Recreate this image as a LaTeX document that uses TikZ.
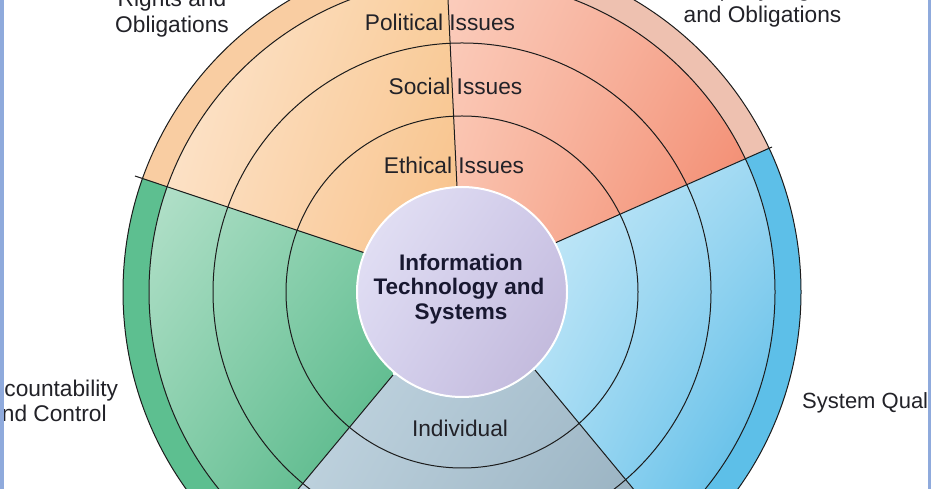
\documentclass[tikz,border=0pt]{standalone}
\usepackage{fontspec}
\setmainfont{Liberation Sans}
\usetikzlibrary{shadings}
\definecolor{framec}{RGB}{143,170,220}
\definecolor{linec}{RGB}{28,28,28}
\definecolor{labelc}{RGB}{34,34,40}
\definecolor{ctrtext}{RGB}{24,24,48}
% orange sector
\definecolor{orUL}{RGB}{253,231,209}
\definecolor{orUR}{RGB}{249,205,155}
\definecolor{orLL}{RGB}{252,223,193}
\definecolor{orLR}{RGB}{248,192,136}
\definecolor{orBand}{RGB}{249,205,162}
% red sector
\definecolor{rdUL}{RGB}{251,205,189}
\definecolor{rdUR}{RGB}{245,165,142}
\definecolor{rdLL}{RGB}{250,192,170}
\definecolor{rdLR}{RGB}{242,132,104}
\definecolor{rdBand}{RGB}{238,193,176}
% blue sector
\definecolor{blUL}{RGB}{210,238,250}
\definecolor{blUR}{RGB}{158,216,242}
\definecolor{blLL}{RGB}{169,221,244}
\definecolor{blLR}{RGB}{77,182,229}
\definecolor{blBand}{RGB}{93,191,232}
% green sector
\definecolor{grUL}{RGB}{181,225,203}
\definecolor{grUR}{RGB}{124,203,164}
\definecolor{grLL}{RGB}{127,203,165}
\definecolor{grLR}{RGB}{67,174,123}
\definecolor{grBand}{RGB}{93,191,144}
% gray sector
\definecolor{gyUL}{RGB}{201,219,230}
\definecolor{gyUR}{RGB}{162,187,202}
\definecolor{gyLL}{RGB}{188,208,220}
\definecolor{gyLR}{RGB}{138,165,181}
% core
\definecolor{coUL}{RGB}{230,228,246}
\definecolor{coUR}{RGB}{206,200,232}
\definecolor{coLL}{RGB}{214,210,238}
\definecolor{coLR}{RGB}{190,180,216}
\begin{document}
\begin{tikzpicture}[x=1pt,y=1pt,
  lbl/.style={font=\fontsize{22.7}{26}\selectfont, text=labelc, inner sep=0pt, anchor=base},
  ctr/.style={font=\fontsize{22.5}{25}\selectfont\bfseries, text=ctrtext, inner sep=0pt, anchor=base},
  ring/.style={draw=linec, line width=1pt},
  divider/.style={draw=linec, line width=1pt}]
\useasboundingbox (0,0) rectangle (931,489);
\clip (0,0) rectangle (931,489);
\fill[white] (0,0) rectangle (931,489);
\coordinate (C) at (462,197);
\begin{scope}[shift={(C)}]
  % divider lines: inner point A, outer tick point B, far point F
  \coordinate (A1) at (-5,105);   \coordinate (B1) at (-16.6,346.7); \coordinate (F1) at (-24,505);
  \coordinate (A2) at (-97,39);   \coordinate (B2) at (-327,116);    \coordinate (F2) at (-465,162);
  \coordinate (A3) at (-69,-83);  \coordinate (B3) at (-222,-267);   \coordinate (F3) at (-348,-419);
  \coordinate (A4) at (73,-78);   \coordinate (B4) at (226,-263);    \coordinate (F4) at (358,-423);
  \coordinate (A5) at (93,49);    \coordinate (B5) at (310,145);     \coordinate (F5) at (440,203);
  % red sector
  \begin{scope}
    \clip (A5) -- (F5) -- (60:700) -- (F1) -- (A1) -- cycle;
    \fill[rdBand] (0,0) circle[radius=339];
    \clip (0,0) circle[radius=313];
    \shade[upper left=rdUL, upper right=rdUR, lower left=rdLL, lower right=rdLR]
      (-15,25) rectangle (285,313);
  \end{scope}
  % orange sector
  \begin{scope}
    \clip (A1) -- (F1) -- (130:700) -- (F2) -- (A2) -- cycle;
    \fill[orBand] (0,0) circle[radius=339];
    \clip (0,0) circle[radius=313];
    \shade[upper left=orUL, upper right=orUR, lower left=orLL, lower right=orLR]
      (-295,20) rectangle (0,313);
  \end{scope}
  % green sector
  \begin{scope}
    \clip (A2) -- (F2) -- (195:700) -- (F3) -- (A3) -- cycle;
    \fill[grBand] (0,0) circle[radius=339];
    \clip (0,0) circle[radius=313];
    \shade[upper left=grUL, upper right=grUR, lower left=grLL, lower right=grLR]
      (-313,-240) rectangle (-38,115);
  \end{scope}
  % gray sector
  \begin{scope}
    \clip (A3) -- (F3) -- (270:700) -- (F4) -- (A4) -- cycle;
    \clip (0,0) circle[radius=339];
    \shade[upper left=gyUL, upper right=gyUR, lower left=gyLL, lower right=gyLR]
      (-218,-339) rectangle (225,-40);
  \end{scope}
  % blue sector
  \begin{scope}
    \clip (A4) -- (F4) -- (345:700) -- (F5) -- (A5) -- cycle;
    \fill[blBand] (0,0) circle[radius=339];
    \clip (0,0) circle[radius=313];
    \shade[upper left=blUL, upper right=blUR, lower left=blLL, lower right=blLR]
      (40,-240) rectangle (313,140);
  \end{scope}
  % rings
  \draw[ring] (0,0) circle[radius=176];
  \draw[ring] (0,0) circle[radius=249];
  \draw[ring] (0,0) circle[radius=313];
  \draw[ring] (0,0) circle[radius=339];
  % dividers
  \draw[divider] (A1) -- (B1);
  \draw[divider] (A2) -- (B2);
  \draw[divider] (A3) -- (B3);
  \draw[divider] (A4) -- (B4);
  \draw[divider] (A5) -- (B5);
\end{scope}
% core circle
\node[circle, minimum size=210pt, inner sep=0pt, draw=white, line width=2pt,
      upper left=coUL, upper right=coUR, lower left=coLL, lower right=coLR] (core) at (C) {};
\node[ctr] (core1) at (461,218) {Information};
\node[ctr] (core2) at (459,194) {Technology and};
\node[ctr] (core3) at (461,169) {Systems};
% ring labels
\node[lbl] (pol) at (440,458) {Political Issues};
\node[lbl] (soc) at (455.5,394) {Social Issues};
\node[lbl] (eth) at (454,315) {Ethical Issues};
\node[lbl] (ind) at (460,52) {Individual};
% dimension labels
\node[lbl] (irA) at (172,482) {Rights and};
\node[lbl] (irB) at (172,456) {Obligations};
\node[lbl] (prA) at (762.5,492) {Property Rights};
\node[lbl] (prB) at (762.5,466) {and Obligations};
\node[lbl] (acA) at (48,92) {Accountability};
\node[lbl] (acB) at (48,67) {and Control};
\node[lbl, anchor=base west, font=\fontsize{22}{26}\selectfont] (sq) at (802,80) {System Quality};
% frame strips
\fill[framec] (0,0) rectangle (3.5,489);
\fill[framec] (927.5,0) rectangle (931,489);
\end{tikzpicture}
\end{document}
